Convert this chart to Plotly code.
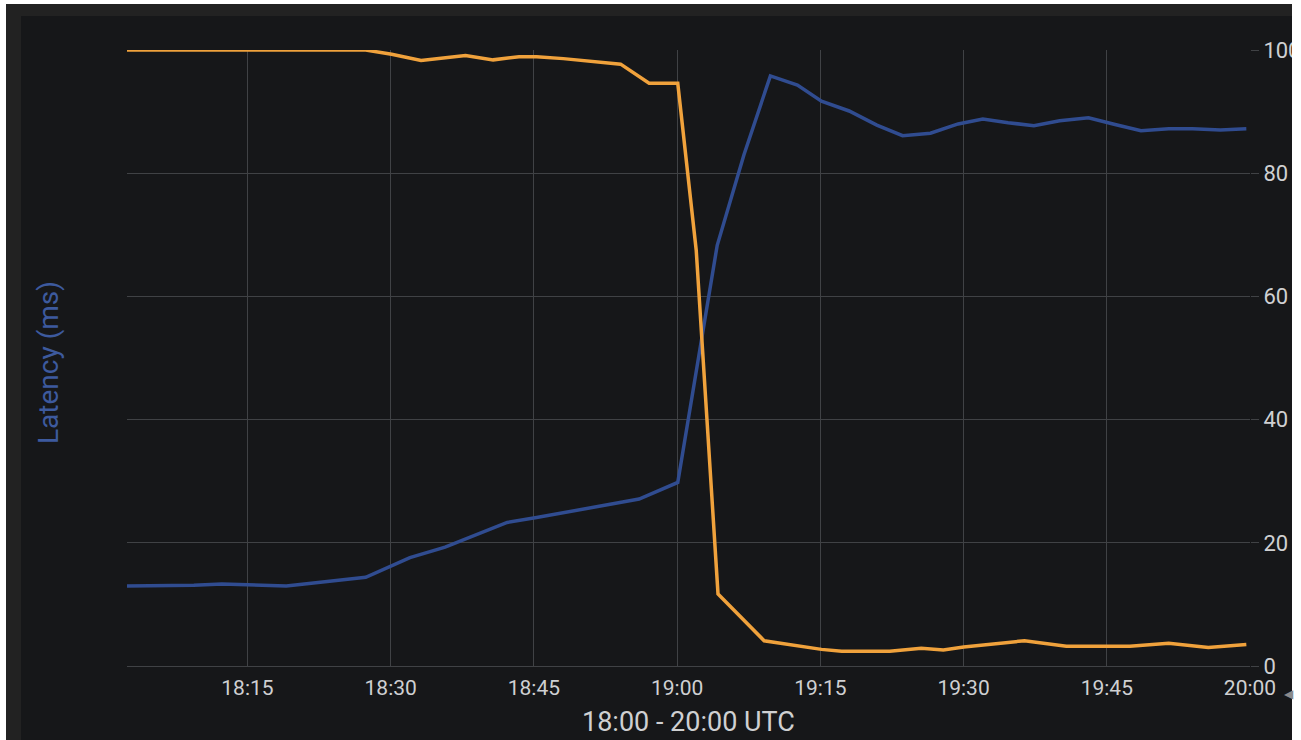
import plotly.graph_objects as go

DAY = "2024-01-01 "

# Blue series: latency (ms)
latency_times = [
    "18:02:23", "18:09:23", "18:12:19", "18:14:50", "18:19:04", "18:27:23",
    "18:32:01", "18:35:42", "18:42:12", "18:45:17", "18:47:53", "18:51:58",
    "18:56:01", "19:00:04", "19:04:12", "19:07:00", "19:09:46", "19:12:36",
    "19:15:07", "19:18:01", "19:20:55", "19:23:37", "19:26:32", "19:29:26",
    "19:32:01", "19:34:40", "19:37:22", "19:40:04", "19:43:05", "19:45:52",
    "19:48:35", "19:51:29", "19:53:59", "19:56:54", "19:59:37",
]
latency_ms = [
    13.0, 13.1, 13.3, 13.2, 13.0, 14.4,
    17.6, 19.3, 23.3, 24.1, 24.8, 26.0,
    27.1, 29.8, 68.3, 83.0, 95.8, 94.3,
    91.7, 90.1, 87.8, 86.1, 86.5, 88.0,
    88.8, 88.2, 87.7, 88.5, 89.0, 87.9,
    86.9, 87.2, 87.2, 87.0, 87.2,
]

# Orange series
second_times = [
    "18:02:23", "18:27:23", "18:30:06", "18:33:11", "18:37:50", "18:40:44",
    "18:43:26", "18:45:17", "18:48:05", "18:54:05", "18:57:04", "19:00:04",
    "19:02:00", "19:04:17", "19:09:07", "19:15:07", "19:17:14", "19:22:16",
    "19:25:34", "19:27:53", "19:30:01", "19:36:23", "19:40:46", "19:44:54",
    "19:47:25", "19:51:29", "19:55:38", "19:59:37",
]
second_values = [
    100.0, 100.0, 99.3, 98.3, 99.1, 98.4,
    98.9, 98.9, 98.6, 97.7, 94.6, 94.6,
    67.5, 11.7, 4.1, 2.7, 2.4, 2.4,
    2.9, 2.6, 3.1, 4.1, 3.2, 3.2,
    3.2, 3.7, 3.0, 3.5,
]

x_range = ["18:02:23", "20:00:00"]
y_ticks = [0, 20, 40, 60, 80, 100]
x_title = "18:00 - 20:00 UTC"
y_title = "Latency (ms)"

BLUE = "#304c90"
ORANGE = "#f0a23c"
PANEL = "#161719"
BAND = "#222222"
GRID = "#404245"
TICKTXT = "#cfd0d2"
FONT = "Roboto"

W, H = 1301, 740
L, R, T, B = 127, 1250, 50, 666


def px(X):
    return (X - L) / (R - L)


def py(Y):
    return (B - Y) / (B - T)


fig = go.Figure()
fig.add_trace(go.Scatter(
    x=[DAY + t for t in latency_times], y=latency_ms, mode="lines",
    line=dict(color=BLUE, width=3.5), name="Latency (ms)",
))
fig.add_trace(go.Scatter(
    x=[DAY + t for t in second_times], y=second_values, mode="lines",
    line=dict(color=ORANGE, width=3.5), name="Series 2",
))

fig.update_layout(
    width=W, height=H,
    margin=dict(l=L, r=W - R, t=T, b=H - B, pad=0, autoexpand=False),
    paper_bgcolor="white",
    plot_bgcolor=PANEL,
    showlegend=False,
    font=dict(family=FONT, color=TICKTXT, size=22),
    xaxis=dict(
        type="date",
        range=[DAY + x_range[0], DAY + x_range[1]],
        dtick=15 * 60 * 1000,
        tick0=DAY + "18:00:00",
        tickformat="%H:%M",
        showgrid=True, gridcolor=GRID, gridwidth=1,
        zeroline=False, showline=False, ticks="",
        ticklabelstandoff=7, automargin=False,
        tickfont=dict(size=21, color=TICKTXT, family=FONT),
    ),
    yaxis=dict(
        range=[0, 100], tickvals=y_ticks, side="right",
        showgrid=True, gridcolor=GRID, gridwidth=1,
        zeroline=True, zerolinecolor=GRID, zerolinewidth=1,
        showline=False, ticks="outside", ticklen=8, tickcolor=GRID,
        automargin=False,
        tickfont=dict(size=22, color=TICKTXT, family=FONT),
    ),
    shapes=[
        dict(type="rect", xref="paper", yref="paper", layer="below",
             x0=px(6), x1=px(1292), y0=py(745), y1=py(4),
             fillcolor=BAND, line=dict(width=0)),
        dict(type="rect", xref="paper", yref="paper", layer="below",
             x0=px(21), x1=px(1292), y0=py(745), y1=py(16),
             fillcolor=PANEL, line=dict(width=0)),
        dict(type="rect", xref="paper", yref="paper", layer="above",
             x0=px(1292), x1=px(1310), y0=py(745), y1=py(-5),
             fillcolor="white", line=dict(width=0)),
    ],
    annotations=[
        dict(text=x_title, xref="paper", yref="paper", x=0.5, y=py(722),
             xanchor="center", yanchor="middle", showarrow=False,
             font=dict(size=27, color=TICKTXT, family=FONT)),
        dict(text=y_title, xref="paper", yref="paper", x=px(48), y=py(363),
             xanchor="center", yanchor="middle", showarrow=False, textangle=-90,
             font=dict(size=28, color="#3d5a9e", family=FONT)),
        dict(text="◀", xref="paper", yref="paper", x=px(1289), y=py(694),
             xanchor="center", yanchor="middle", showarrow=False,
             font=dict(size=12, color="#8a8a8a", family=FONT)),
    ],
)

fig.write_html("out.html", config={"displayModeBar": False},
               post_script="document.body.style.margin='0';")
